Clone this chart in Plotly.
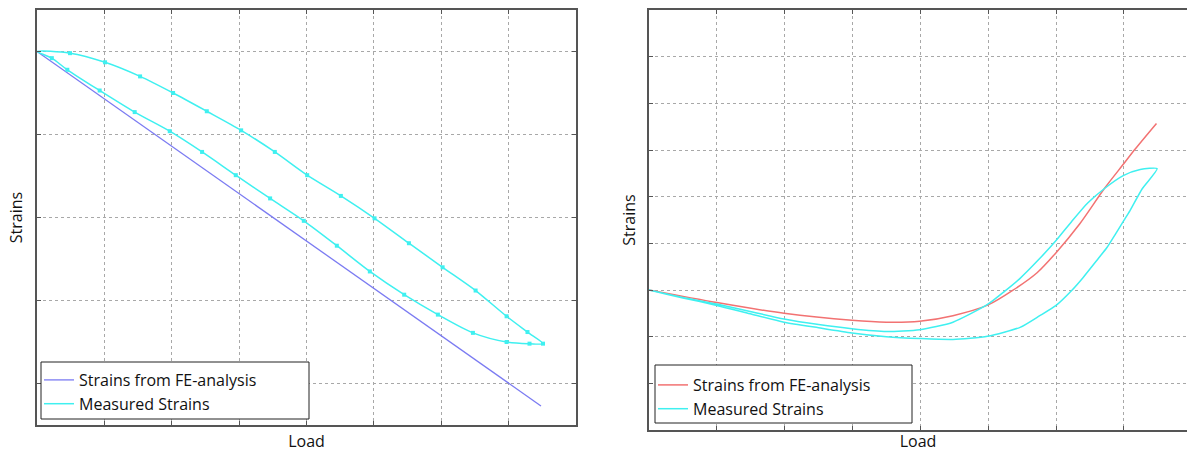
import plotly.graph_objects as go

# ---------------- Left panel data ----------------
left_fe_load = [0, 7.48]
left_fe_strain = [0, -4.27]

left_meas_load = [0, 0.22, 0.45, 0.93, 1.45, 1.97, 2.45, 2.95, 3.46, 3.96, 4.45, 4.94,
                  5.45, 5.95, 6.47, 6.97, 7.31, 7.51,
                  7.28, 6.97, 6.51, 6.02, 5.52, 5.01, 4.51, 4.01, 3.53, 3.03, 2.52,
                  2.02, 1.53, 1.01, 0.49, 0]
left_meas_strain = [0, -0.08, -0.22, -0.47, -0.73, -0.96, -1.21, -1.49, -1.77, -2.04, -2.34, -2.65,
                    -2.93, -3.17, -3.39, -3.50, -3.52, -3.52,
                    -3.38, -3.19, -2.88, -2.60, -2.31, -2.01, -1.74, -1.49, -1.21, -0.95, -0.72,
                    -0.50, -0.30, -0.13, -0.02, 0]

# ---------------- Right panel data ----------------
right_fe_load = [0, 1.0, 1.99, 2.99, 3.50, 3.99, 4.48, 5.0, 5.36, 5.72, 6.0, 6.35, 6.71, 7.0, 7.16, 7.48]
right_fe_strain = [0, -0.27, -0.50, -0.65, -0.69, -0.67, -0.55, -0.32, -0.01, 0.37, 0.80, 1.42,
                   2.17, 2.71, 3.01, 3.57]

right_meas_load = [0, 0.50, 1.0, 1.49, 1.99, 2.50, 2.99, 3.50, 3.99, 4.48, 4.99, 5.24, 5.47, 5.73,
                   6.0, 6.23, 6.47, 6.71, 6.99, 7.24, 7.49,
                   7.27, 7.09, 7.0, 6.88, 6.75, 6.62, 6.40, 6.23, 6.0, 5.76, 5.47, 4.99, 4.48,
                   3.99, 3.50, 2.99, 2.50, 1.99, 1.49, 1.0, 0.50, 0]
right_meas_strain = [0, -0.16, -0.30, -0.46, -0.62, -0.74, -0.83, -0.89, -0.85, -0.69, -0.31, -0.03,
                     0.25, 0.63, 1.06, 1.47, 1.87, 2.17, 2.45, 2.58, 2.60,
                     2.17, 1.70, 1.49, 1.21, 0.91, 0.67, 0.27, -0.01, -0.33, -0.55, -0.80, -0.99,
                     -1.06, -1.04, -1.00, -0.92, -0.81, -0.69, -0.51, -0.33, -0.17, 0]

legend_names = ["Strains from FE-analysis", "Measured Strains"]
x_title = "Load"
y_title = "Strains"

CYAN = "#3ff0f0"
BLUE = "#7b7bf2"
RED = "#f27272"
FONT = "Open Sans"

fig = go.Figure()

fig.add_trace(go.Scatter(x=left_fe_load, y=left_fe_strain, mode="lines",
                         line=dict(color=BLUE, width=1.3), name=legend_names[0],
                         xaxis="x", yaxis="y", legend="legend"))
fig.add_trace(go.Scatter(x=left_meas_load, y=left_meas_strain, mode="lines",
                         line=dict(color=CYAN, width=1.5, shape="spline", smoothing=0.8),
                         name=legend_names[1], xaxis="x", yaxis="y", legend="legend"))
fig.add_trace(go.Scatter(x=left_meas_load[1:-1], y=left_meas_strain[1:-1], mode="markers",
                         marker=dict(size=4, color=CYAN, symbol="square"), showlegend=False,
                         hoverinfo="skip", xaxis="x", yaxis="y"))

fig.add_trace(go.Scatter(x=right_fe_load, y=right_fe_strain, mode="lines",
                         line=dict(color=RED, width=1.5, shape="spline", smoothing=0.8),
                         name=legend_names[0], xaxis="x2", yaxis="y2", legend="legend2"))
fig.add_trace(go.Scatter(x=right_meas_load, y=right_meas_strain, mode="lines",
                         line=dict(color=CYAN, width=1.5, shape="spline", smoothing=0.6),
                         name=legend_names[1], xaxis="x2", yaxis="y2", legend="legend2"))

W, H = 1187, 452
grid = dict(showgrid=True, gridcolor="#a8a8a8", griddash="dot", gridwidth=1,
            zeroline=False, showticklabels=False, ticks="inside", ticklen=4,
            tickcolor="#555", linecolor="#555", linewidth=1.5, showline=True)

axtitle = dict(font=dict(family=FONT, size=16, color="#111"))

# legend boxes (drawn as rectangles to match the reference size)
left_box = (41, 362, 309, 419)
right_box = (655, 365, 912, 423)
shapes = []
for (x0, y0, x1, y1) in (left_box, right_box):
    shapes.append(dict(type="rect", xref="paper", yref="paper",
                       x0=x0 / W, x1=x1 / W, y0=(H - y1) / H, y1=(H - y0) / H,
                       line=dict(color="#222", width=1), fillcolor="white", layer="above"))

fig.update_layout(
    width=W, height=H,
    margin=dict(l=0, r=0, t=0, b=0),
    paper_bgcolor="white", plot_bgcolor="white",
    font=dict(family=FONT, size=14, color="#111"),
    xaxis=dict(domain=[37 / W, 576 / W], range=[0, 8], dtick=1, tick0=0, mirror="ticks",
               anchor="y", title=dict(text=x_title, standoff=13, **axtitle), automargin=False, **grid),
    yaxis=dict(domain=[(H - 425) / H, (H - 10) / H], range=[-4.5, 0.5], dtick=1, tick0=0,
               mirror="ticks", anchor="x", title=dict(text=y_title, standoff=9, **axtitle),
               automargin=False, **grid),
    xaxis2=dict(domain=[649 / W, 1.0], range=[0, 7.93], dtick=1, tick0=0, mirror="ticks",
                anchor="y2", title=dict(text=x_title, standoff=11, **axtitle), automargin=False, **grid),
    yaxis2=dict(domain=[(H - 430) / H, (H - 10) / H], range=[-3, 6], dtick=1, tick0=0,
                mirror=False, anchor="x2", title=dict(text=y_title, standoff=8, **axtitle),
                automargin=False, **grid),
    legend=dict(x=39 / W, y=(H - 363) / H, xanchor="left", yanchor="top",
                borderwidth=0, bgcolor="rgba(0,0,0,0)",
                font=dict(family=FONT, size=16, color="#111"), tracegroupgap=0),
    legend2=dict(x=653 / W, y=(H - 368) / H, xanchor="left", yanchor="top",
                 borderwidth=0, bgcolor="rgba(0,0,0,0)",
                 font=dict(family=FONT, size=16, color="#111"), tracegroupgap=0),
    shapes=shapes,
    showlegend=True,
)

fig.write_html("out.html", config={"displayModeBar": False},
               post_script="document.body.style.margin='0px';document.body.style.overflow='hidden';")
